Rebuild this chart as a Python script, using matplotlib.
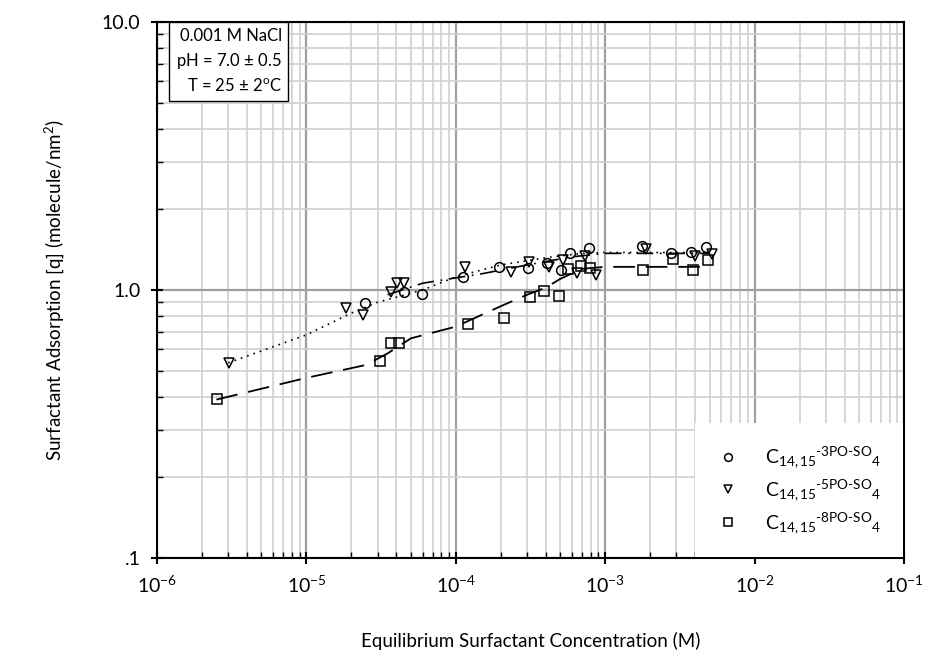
import numpy as np
import matplotlib
matplotlib.use('Agg')
import matplotlib.pyplot as plt
from matplotlib.ticker import FixedLocator, FixedFormatter, LogLocator, NullFormatter

plt.rcParams['font.family'] = ['Lato', 'DejaVu Sans']
plt.rcParams['mathtext.fontset'] = 'custom'
plt.rcParams['mathtext.rm'] = 'Lato'
plt.rcParams['mathtext.it'] = 'Lato:italic'

# ---- data
conc3 = [2.46e-5, 4.5e-5, 5.95e-5, 1.11e-4, 1.94e-4, 3.03e-4, 4.05e-4, 5.1e-4,
         5.85e-4, 7.8e-4, 1.77e-3, 2.77e-3, 3.73e-3, 4.75e-3]
q3 = [0.897, 0.986, 0.97, 1.12, 1.22, 1.205, 1.26, 1.19,
      1.37, 1.43, 1.46, 1.37, 1.39, 1.45]

conc5 = [3.03e-6, 1.84e-5, 2.4e-5, 3.7e-5, 4.05e-5, 4.5e-5, 1.15e-4, 2.33e-4,
         3.1e-4, 4.2e-4, 5.2e-4, 6.5e-4, 7.3e-4, 8.7e-4, 1.88e-3, 3.97e-3, 5.2e-3]
q5 = [0.535, 0.855, 0.805, 0.986, 1.06, 1.06, 1.22, 1.17,
      1.275, 1.22, 1.29, 1.16, 1.34, 1.14, 1.42, 1.34, 1.36]

conc8 = [2.51e-6, 3.1e-5, 3.7e-5, 4.2e-5, 1.2e-4, 2.1e-4, 3.16e-4, 3.9e-4,
         4.9e-4, 5.6e-4, 6.9e-4, 7.97e-4, 1.8e-3, 2.85e-3, 3.85e-3, 4.9e-3]
q8 = [0.393, 0.545, 0.633, 0.633, 0.747, 0.784, 0.944, 0.99,
      0.95, 1.195, 1.23, 1.205, 1.19, 1.30, 1.19, 1.29]

# fitted curves
fit_dot_x = [3e-6, 1e-5, 2e-5, 3e-5, 6e-5, 1e-4, 2e-4, 4e-4, 7e-4, 1e-3, 5e-3]
fit_dot_y = [0.535, 0.68, 0.82, 0.90, 1.00, 1.12, 1.24, 1.32, 1.37, 1.38, 1.38]

fit_dd_x = [3.5e-5, 6e-5, 1e-4, 1.5e-4, 3e-4, 6e-4, 1e-3, 5e-3]
fit_dd_y = [0.96, 1.06, 1.11, 1.15, 1.24, 1.33, 1.37, 1.37]

fit_ld_x = [2.5e-6, 1e-5, 2.5e-5, 3.5e-5, 5e-5, 1e-4, 2e-4, 3e-4, 4e-4, 5e-4, 7e-4, 1e-3, 5e-3]
fit_ld_y = [0.39, 0.47, 0.525, 0.58, 0.66, 0.73, 0.87, 0.96, 1.02, 1.10, 1.20, 1.22, 1.22]

xticks = [1e-6, 1e-5, 1e-4, 1e-3, 1e-2, 1e-1]
xticklabels = [r'$\mathregular{10^{-6}}$', r'$\mathregular{10^{-5}}$', r'$\mathregular{10^{-4}}$',
               r'$\mathregular{10^{-3}}$', r'$\mathregular{10^{-2}}$', r'$\mathregular{10^{-1}}$']
yticks = [0.1, 1.0, 10.0]
yticklabels = ['.1', '1.0', '10.0']

labels = [r'C$_{\mathregular{14,15}}$$^{\text{-3PO-SO}}$$_{\mathregular{4}}$',
          r'C$_{\mathregular{14,15}}$$^{\text{-5PO-SO}}$$_{\mathregular{4}}$',
          r'C$_{\mathregular{14,15}}$$^{\text{-8PO-SO}}$$_{\mathregular{4}}$']

fig = plt.figure(figsize=(9.25, 6.55), dpi=100)
ax = fig.add_axes((0.1697, 0.1481, 0.8076, 0.8183))
ax.set_xscale('log')
ax.set_yscale('log')
ax.set_xlim(1e-6, 1e-1)
ax.set_ylim(0.1, 10)

ax.grid(True, which='major', color='#a0a0a0', linewidth=1.6, zorder=0)
ax.grid(True, which='minor', color='#d0d0d0', linewidth=1.2, zorder=0)
ax.set_axisbelow(True)

ax.plot(fit_dot_x, fit_dot_y, color='k', linestyle=(0, (1, 3)), linewidth=1.2)
ax.plot(fit_dd_x, fit_dd_y, color='k', linestyle=(0, (10, 4, 1, 4)), linewidth=1.2)
ax.plot(fit_ld_x, fit_ld_y, color='k', linestyle=(0, (12, 6)), linewidth=1.3)

mk = dict(linestyle='none', markerfacecolor='none', markeredgecolor='k',
          markeredgewidth=1.1, markersize=7)
ax.plot(conc3, q3, marker='o', label=labels[0], **mk)
ax.plot(conc5, q5, marker='v', label=labels[1], **mk)
ax.plot(conc8, q8, marker='s', label=labels[2], **mk)

ax.xaxis.set_major_locator(FixedLocator(xticks))
ax.xaxis.set_major_formatter(FixedFormatter(xticklabels))
ax.xaxis.set_minor_locator(LogLocator(base=10, subs=np.arange(2, 10)))
ax.xaxis.set_minor_formatter(NullFormatter())
ax.yaxis.set_major_locator(FixedLocator(yticks))
ax.yaxis.set_major_formatter(FixedFormatter(yticklabels))
ax.yaxis.set_minor_locator(LogLocator(base=10, subs=np.arange(2, 10)))
ax.yaxis.set_minor_formatter(NullFormatter())

ax.tick_params(which='major', direction='inout', length=8, width=1.5, labelsize=14, pad=8)
ax.tick_params(which='minor', direction='in', length=4, width=1)
for s in ax.spines.values():
    s.set_linewidth(1.5)

ax.set_xlabel('Equilibrium Surfactant Concentration (M)', fontsize=13.5, labelpad=26)
ax.set_ylabel(r'Surfactant Adsorption [q] (molecule/nm$^{\mathregular{2}}$)', fontsize=13.5, labelpad=26)

leg = ax.legend(loc='lower right', borderaxespad=0.05, frameon=True, fancybox=False,
                framealpha=1, edgecolor='white', fontsize=14, markerscale=0.8,
                handlelength=1.2, handletextpad=1.3, labelspacing=0.35,
                borderpad=1.1)
leg.get_frame().set_linewidth(0)
leg.set_zorder(5)

ax.text(0.167, 0.988, '0.001 M NaCl\npH = 7.0 $\\pm$ 0.5\nT = 25 $\\pm$ 2$^{\\mathregular{o}}$C',
        transform=ax.transAxes, ha='right', va='top', fontsize=12, linespacing=1.45,
        bbox=dict(boxstyle='square,pad=0.4', facecolor='white', edgecolor='k', linewidth=1),
        zorder=6)

fig.savefig('out.png', dpi=100)
